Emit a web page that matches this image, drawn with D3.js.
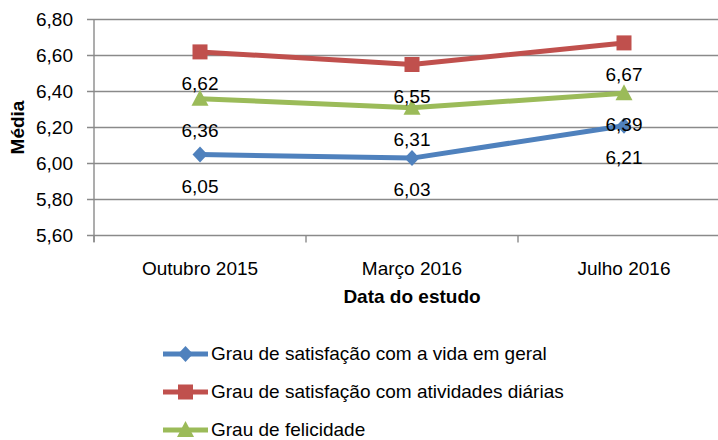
<!DOCTYPE html>
<html>
<head>
<meta charset="utf-8">
<script src="https://cdn.jsdelivr.net/npm/d3@7"></script>
<style>
  html, body { margin: 0; padding: 0; background: #fff; }
  svg { display: block; font-family: "Liberation Sans", Arial, sans-serif; }
</style>
</head>
<body>
<svg id="chart" width="718" height="440"></svg>
<script>
// ---- data ----
const categories = ["Outubro 2015", "Março 2016", "Julho 2016"];
const seriesNames = [
  "Grau de satisfação com a vida em geral",
  "Grau de satisfação com atividades diárias",
  "Grau de felicidade"
];
const vidaGeral = [6.05, 6.03, 6.21];
const atividadesDiarias = [6.62, 6.55, 6.67];
const felicidade = [6.36, 6.31, 6.39];
const yTicks = [5.6, 5.8, 6.0, 6.2, 6.4, 6.6, 6.8];
const yTitle = "Média";
const xTitle = "Data do estudo";

const colors = ["#4F81BD", "#C0504D", "#9BBB59"];
const markers = ["diamond", "square", "triangle"];
const series = [vidaGeral, atividadesDiarias, felicidade].map((v, i) => ({
  name: seriesNames[i], values: v, color: colors[i], marker: markers[i]
}));

const svg = d3.select("#chart");
const fmt = v => d3.format(".2f")(v).replace(".", ",");

const x = d3.scaleBand().domain(categories).range([94, 730]);
const y = d3.scaleLinear().domain([5.6, 6.8]).range([235.5, 19.5]);
const cx = c => x(c) + x.bandwidth() / 2;

// gridlines
svg.append("g").selectAll("line").data(yTicks).join("line")
  .attr("x1", 87).attr("x2", 730)
  .attr("y1", d => y(d)).attr("y2", d => y(d))
  .attr("stroke", "#8a8a8a").attr("stroke-width", 1.4);

// y axis
const yAxis = d3.axisLeft(y).tickValues(yTicks).tickFormat(fmt).tickSize(0).tickPadding(21);
const gy = svg.append("g").attr("transform", "translate(94,0)").call(yAxis);
gy.select(".domain").remove();
gy.selectAll("text").attr("font-size", 19).attr("fill", "#000")
  .attr("font-family", "Liberation Sans, Arial, sans-serif");
svg.append("line").attr("x1", 94).attr("x2", 94).attr("y1", 19.5).attr("y2", 242)
  .attr("stroke", "#8a8a8a").attr("stroke-width", 1.4);

// x axis
const xAxis = d3.axisBottom(x).tickSize(0).tickPadding(26);
const gx = svg.append("g").attr("transform", `translate(0,${y(5.6)})`).call(xAxis);
gx.select(".domain").remove();
gx.selectAll("text").attr("font-size", 19).attr("fill", "#000")
  .attr("font-family", "Liberation Sans, Arial, sans-serif");
// category boundary ticks
const bounds = categories.map(c => x(c)).concat([x(categories[categories.length - 1]) + x.bandwidth()]);
svg.append("g").selectAll("line").data(bounds).join("line")
  .attr("x1", d => d).attr("x2", d => d)
  .attr("y1", y(5.6)).attr("y2", y(5.6) + 7)
  .attr("stroke", "#8a8a8a").attr("stroke-width", 1.4);

// axis titles
svg.append("text").attr("transform", `translate(24,${(y(5.6) + y(6.8)) / 2}) rotate(-90)`)
  .attr("text-anchor", "middle").attr("font-size", 19).attr("font-weight", "bold")
  .text(yTitle);
svg.append("text").attr("x", (x.range()[0] + 730) / 2).attr("y", 303)
  .attr("text-anchor", "middle").attr("font-size", 19).attr("font-weight", "bold")
  .text(xTitle);

// marker helper
function drawMarker(g, type, px, py, color) {
  if (type === "square") {
    g.append("rect").attr("x", px - 7.5).attr("y", py - 7.5).attr("width", 15).attr("height", 15).attr("fill", color);
  } else if (type === "diamond") {
    g.append("path").attr("d", `M${px},${py - 8}L${px + 7.5},${py}L${px},${py + 8}L${px - 7.5},${py}Z`).attr("fill", color);
  } else {
    g.append("path").attr("d", `M${px},${py - 9}L${px + 8.5},${py + 7}L${px - 8.5},${py + 7}Z`).attr("fill", color);
  }
}

// lines + markers
const line = d3.line().x((d, i) => cx(categories[i])).y(d => y(d));
const plot = svg.append("g");
series.forEach(s => {
  plot.append("path").attr("d", line(s.values)).attr("fill", "none")
    .attr("stroke", s.color).attr("stroke-width", 5).attr("stroke-linejoin", "round");
  s.values.forEach((v, i) => drawMarker(plot, s.marker, cx(categories[i]), y(v), s.color));
});
// data labels
series.forEach(s => {
  svg.append("g").selectAll("text").data(s.values).join("text")
    .attr("x", (d, i) => cx(categories[i]))
    .attr("y", d => y(d) + 38)
    .attr("text-anchor", "middle").attr("font-size", 19).attr("fill", "#000")
    .text(d => fmt(d));
});

// legend
const legendY = [354, 392, 430];
series.forEach((s, i) => {
  const g = svg.append("g");
  g.append("line").attr("x1", 163).attr("x2", 208).attr("y1", legendY[i]).attr("y2", legendY[i])
    .attr("stroke", s.color).attr("stroke-width", 5);
  drawMarker(g, s.marker, 185.5, legendY[i], s.color);
  g.append("text").attr("x", 211).attr("y", legendY[i] + 5.5)
    .attr("font-size", 19).attr("fill", "#000").text(s.name);
});
</script>
</body>
</html>
